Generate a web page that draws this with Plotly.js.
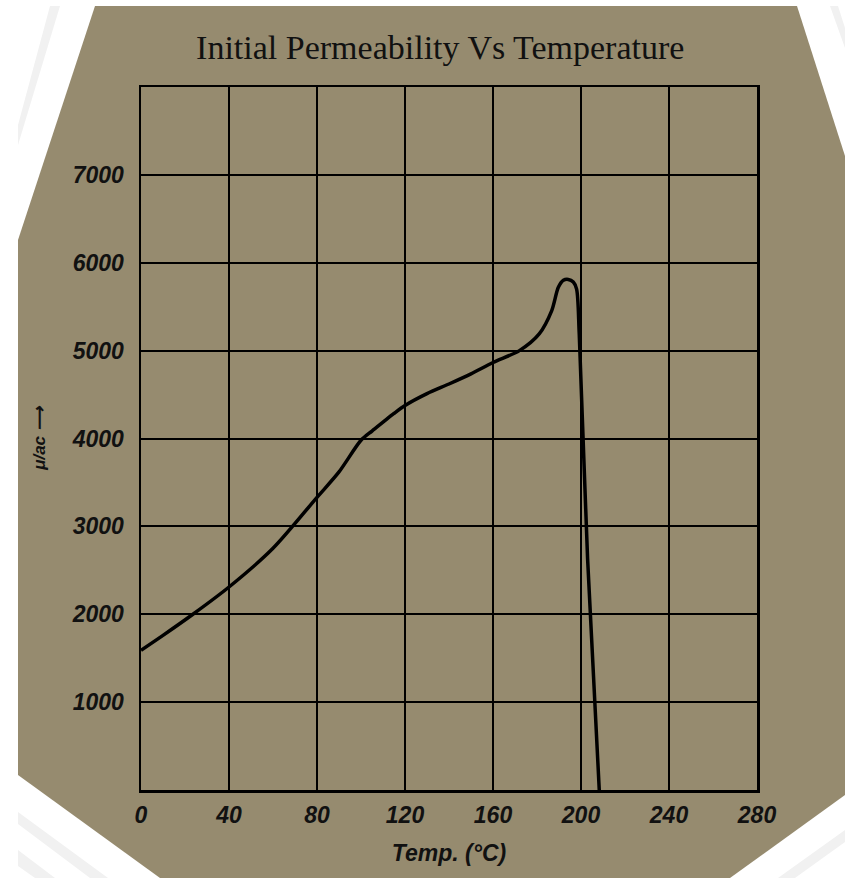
<!DOCTYPE html>
<html>
<head>
<meta charset="utf-8">
<script src="https://cdn.plot.ly/plotly-3.0.1.min.js"></script>
<style>
  html, body { margin:0; padding:0; background:#ffffff; width:845px; height:878px; overflow:hidden; }
  #bg { position:absolute; left:0; top:0; width:845px; height:878px; background:#968b6f;
        clip-path: polygon(95px 6px, 797px 6px, 845px 156px, 845px 795px, 730px 878px, 160px 878px, 18px 775px, 18px 240px); }
  .stripe { position:absolute; left:0; top:0; width:845px; height:878px; background:#f1f1f1; }
  #s1 { clip-path: polygon(50px 6px, 60px 6px, 18px 145px, 18px 125px); }
  #s2 { clip-path: polygon(18px 812px, 18px 824px, 90px 878px, 108px 878px); }
  #s3 { clip-path: polygon(18px 850px, 18px 866px, 35px 878px, 55px 878px); }
  #s4 { clip-path: polygon(845px 830px, 845px 842px, 795px 878px, 778px 878px); }
  #s5 { clip-path: polygon(830px 6px, 838px 6px, 845px 28px, 845px 48px); }
  #chart { position:absolute; left:0; top:0; width:845px; height:878px; }
</style>
</head>
<body>
<div id="s1" class="stripe"></div>
<div id="s2" class="stripe"></div>
<div id="s3" class="stripe"></div>
<div id="s4" class="stripe"></div>
<div id="s5" class="stripe"></div>
<div id="bg"></div>
<div id="chart"></div>
<script>
// Temperature (°C)
const temperature = [0, 10, 23.6, 40, 60, 80, 90, 100, 105, 110, 115, 120, 130, 140, 150, 160, 172, 181, 186.7, 189.7, 192, 194.2, 196.5, 198, 199.2, 203, 208.3];
// Initial permeability μi/ac
const permeability = [1590, 1760, 2000, 2310, 2750, 3330, 3620, 3980, 4085, 4185, 4285, 4375, 4510, 4620, 4735, 4865, 5000, 5190, 5455, 5720, 5800, 5810, 5780, 5700, 5190, 2630, 0];

const xTicks = [0, 40, 80, 120, 160, 200, 240, 280];
const yTicks = [1000, 2000, 3000, 4000, 5000, 6000, 7000];

const tickFont = {family: 'Liberation Sans, Arial, sans-serif', size: 23, color: '#111', weight: 'bold', style: 'italic'};

const trace = {
  x: temperature,
  y: permeability,
  type: 'scatter',
  mode: 'lines',
  line: {color: '#000', width: 3.5, shape: 'spline', smoothing: 0.8},
  hoverinfo: 'skip',
  cliponaxis: true
};

const layout = {
  width: 845, height: 878,
  margin: {l: 141, r: 88, t: 87, b: 88},
  paper_bgcolor: 'rgba(0,0,0,0)',
  plot_bgcolor: 'rgba(0,0,0,0)',
  showlegend: false,
  title: {
    text: 'Initial Permeability Vs Temperature',
    font: {family: 'Liberation Serif, Times New Roman, serif', size: 34, color: '#111'},
    xref: 'container', yref: 'container',
    x: 0.521, xanchor: 'center',
    y: 1 - 47/878, yanchor: 'middle'
  },
  xaxis: {
    range: [0, 280],
    tickvals: xTicks,
    ticktext: xTicks.map(String),
    tickfont: tickFont,
    ticks: '',
    ticklabelstandoff: 3,
    showgrid: true, gridcolor: '#000', gridwidth: 2,
    showline: true, linecolor: '#000', linewidth: 2.5, mirror: true,
    zeroline: false,
    fixedrange: true,
    title: {
      text: 'Temp. (°C)',
      font: {family: 'Liberation Sans, Arial, sans-serif', size: 23, color: '#111', weight: 'bold', style: 'italic'},
      standoff: 18
    }
  },
  yaxis: {
    range: [0, 8000],
    tickvals: yTicks,
    ticktext: yTicks.map(String),
    tickfont: tickFont,
    ticks: '',
    ticklabelstandoff: 10,
    showgrid: true, gridcolor: '#000', gridwidth: 2,
    showline: true, linecolor: '#000', linewidth: 2.5, mirror: true,
    zeroline: false,
    fixedrange: true,
    title: {
      text: 'μ/ac ⟶',
      font: {family: 'Liberation Sans, Arial, sans-serif', size: 17, color: '#111', weight: 'bold', style: 'italic'},
      standoff: 22
    }
  }
};

Plotly.newPlot('chart', [trace], layout, {staticPlot: true, displayModeBar: false});
</script>
</body>
</html>
